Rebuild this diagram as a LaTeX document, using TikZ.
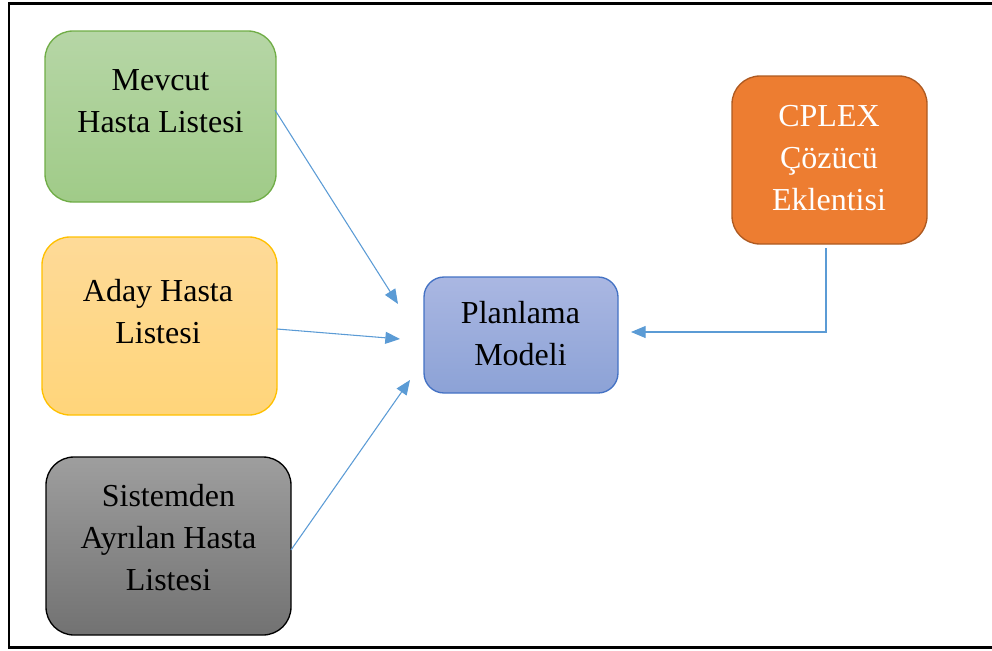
\documentclass[tikz,border=0pt]{standalone}
\usepackage{fontspec}
\setmainfont{Liberation Serif}
\usetikzlibrary{arrows.meta,calc}

\definecolor{greenTop}{RGB}{182,214,166}
\definecolor{greenBot}{RGB}{160,203,136}
\definecolor{greenLine}{RGB}{112,173,71}
\definecolor{yellowTop}{RGB}{254,218,152}
\definecolor{yellowBot}{RGB}{255,213,122}
\definecolor{yellowLine}{RGB}{255,192,0}
\definecolor{grayTop}{RGB}{158,158,158}
\definecolor{grayBot}{RGB}{114,114,114}
\definecolor{blueTop}{RGB}{170,183,226}
\definecolor{blueBot}{RGB}{140,162,214}
\definecolor{blueLine}{RGB}{68,114,196}
\definecolor{orangeFill}{RGB}{237,125,49}
\definecolor{orangeLine}{RGB}{174,90,33}
\definecolor{linkBlue}{RGB}{91,155,213}

\begin{document}
\begin{tikzpicture}[x=0.75pt,y=-0.75pt,
  panel/.style={draw, line width=1pt, rounded corners=21pt, inner sep=0pt, outer sep=0pt},
  label text/.style={align=center, inner sep=0pt, font=\fontsize{24}{31.5}\selectfont},
  link/.style={draw=linkBlue, line width=0.8pt, -{Triangle[length=11pt,width=9pt]}}]

\useasboundingbox (0,0) rectangle (992,650);

% outer frame, open on the right
\draw[line width=2.2pt] (1000,3.5) -- (9,3.5) -- (9,647.5) -- (1000,647.5);

% input boxes
\node[panel, draw=greenLine, top color=greenTop, bottom color=greenBot,
      minimum width=173.25pt, minimum height=128.25pt] (mevcut) at (160.5,116.5) {};
\node[label text] (mevcutText) at (160.5,101.5) {Mevcut\\Hasta Listesi};

\node[panel, draw=yellowLine, top color=yellowTop, bottom color=yellowBot,
      minimum width=176.25pt, minimum height=133.5pt] (aday) at (159.5,326) {};
\node[label text] (adayText) at (158,312) {Aday Hasta\\Listesi};

\node[panel, draw=black, top color=grayTop, bottom color=grayBot,
      minimum width=183.75pt, minimum height=133.5pt] (sistem) at (168.5,546) {};
\node[label text] (sistemText) at (168.5,538) {Sistemden\\Ayrılan Hasta\\Listesi};

% model box
\node[panel, draw=blueLine, top color=blueTop, bottom color=blueBot, rounded corners=15pt,
      minimum width=145.5pt, minimum height=87pt] (plan) at (521,335) {};
\node[label text] (planText) at (520.5,334) {Planlama\\Modeli};

% solver box
\node[panel, draw=orangeLine, fill=orangeFill,
      minimum width=146.25pt, minimum height=126pt] (cplex) at (829.5,160) {};
\node[label text, text=white] (cplexText) at (829,158) {CPLEX\\Çözücü\\Eklentisi};

% connector ends
\coordinate (s1) at ($(mevcut.east)+(-1,-6.5)$);
\coordinate (t1) at ($(plan.west)+(-26,-31)$);
\coordinate (s2) at ($(aday.east)+(0,3)$);
\coordinate (t2) at ($(plan.west)+(-24,4)$);
\coordinate (s3) at ($(sistem.east)+(0,4)$);
\coordinate (t3) at ($(plan.west)+(-14,45)$);
\coordinate (s4) at ($(cplex.south)+(-3.5,4)$);
\coordinate (t4) at ($(plan.east)+(13,-3)$);

\draw[link] (s1) -- (t1);
\draw[link] (s2) -- (t2);
\draw[link] (s3) -- (t3);
\draw[link] (s4) |- (t4);
\end{tikzpicture}
\end{document}
